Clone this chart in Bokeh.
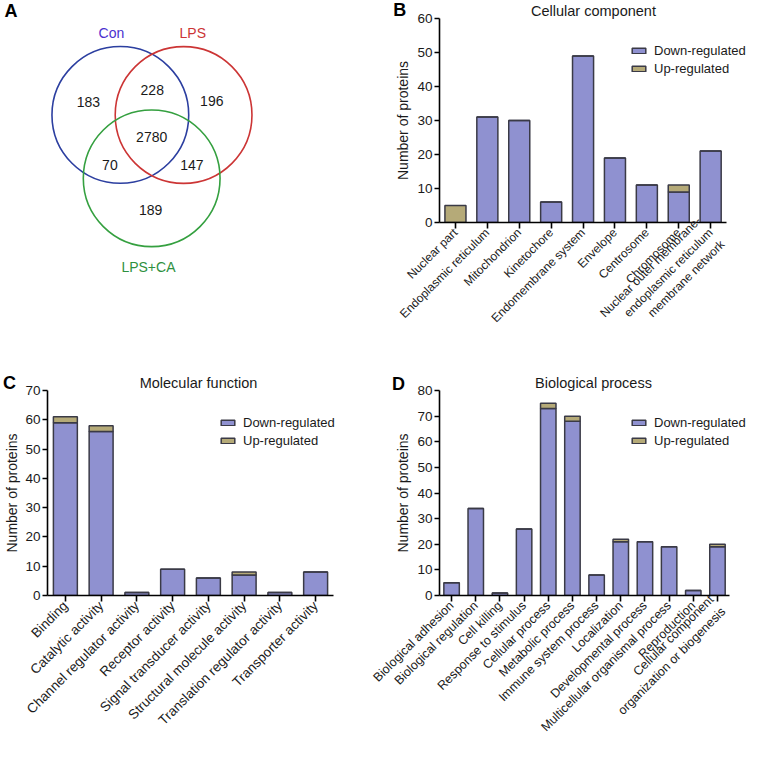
import math
from bokeh.plotting import figure
from bokeh.models import Range1d, Label, FixedTicker, ColumnDataSource
from bokeh.layouts import row, column
from bokeh.embed import file_html
from bokeh.resources import INLINE
from bokeh.core.properties import value

# ---------------- data ----------------
venn_sets = ["Con", "LPS", "LPS+CA"]
venn_regions = ["Con only", "Con & LPS", "LPS only", "All three", "Con & LPS+CA", "LPS & LPS+CA", "LPS+CA only"]
venn_counts = [183, 228, 196, 2780, 70, 147, 189]

cc_cats = ["Nuclear part", "Endoplasmic reticulum", "Mitochondrion", "Kinetochore",
           "Endomembrane system", "Envelope", "Centrosome", "Chromosome",
           "Nuclear outer membrane-\nendoplasmic reticulum\nmembrane network"]
cc_down = [0, 31, 30, 6, 49, 19, 11, 9, 21]
cc_up = [5, 0, 0, 0, 0, 0, 0, 2, 0]
cc_ticks = [0, 10, 20, 30, 40, 50, 60]

mf_cats = ["Binding", "Catalytic activity", "Channel regulator activity", "Receptor activity",
           "Signal transducer activity", "Structural molecule activity",
           "Translation regulator activity", "Transporter activity"]
mf_down = [59, 56, 1, 9, 6, 7, 1, 8]
mf_up = [2, 2, 0, 0, 0, 1, 0, 0]
mf_ticks = [0, 10, 20, 30, 40, 50, 60, 70]

bp_cats = ["Biological adhesion", "Biological regulation", "Cell killing", "Response to stimulus",
           "Cellular process", "Metabolic process", "Immune system process", "Localization",
           "Developmental process", "Multicellular organismal process", "Reproduction",
           "Cellular component\norganization or biogenesis"]
bp_down = [5, 34, 1, 26, 73, 68, 8, 21, 21, 19, 2, 19]
bp_up = [0, 0, 0, 0, 2, 2, 0, 1, 0, 0, 0, 1]
bp_ticks = [0, 10, 20, 30, 40, 50, 60, 70, 80]

series_names = ["Down-regulated", "Up-regulated"]

# ---------------- styles / layout ----------------
FONT = "Liberation Sans"
BLUE = "#8f91d0"
TAN = "#b5aa78"
EDGE = "#3a3a46"
TXT = "#1a1a1a"
RIGHT = 16
LEFT_COL_W = 365
RIGHT_COL_W = 763 - LEFT_COL_W
RIGHT_AXIS_X = 439 - LEFT_COL_W


def bar_panel(cats, down, up, ticks, title, letter, w, h, left, bottom,
              spacing_px, bar_w, cat_size, legend_xy, letter_xy, ylabel_standoff):
    n = len(cats)
    xs = list(range(n))
    x_end = -0.5 + (w - left - RIGHT) / spacing_px
    src = ColumnDataSource(dict(x=xs, down=down, up=up))
    p = figure(width=w, height=h, x_range=Range1d(-0.5, x_end),
               y_range=Range1d(ticks[0], ticks[-1]),
               output_backend="svg", toolbar_location=None,
               min_border_left=left, min_border_right=RIGHT,
               min_border_top=0, min_border_bottom=bottom)
    p.vbar_stack(["down", "up"], x="x", width=bar_w, source=src,
                 fill_color=[BLUE, TAN], line_color=EDGE, line_width=1.5,
                 legend_label=series_names)
    p.grid.visible = False
    p.outline_line_color = None
    p.background_fill_color = None
    p.border_fill_color = None
    for ax in (p.xaxis, p.yaxis):
        ax.axis_line_width = 1.6
        ax.axis_line_color = "black"
        ax.major_tick_line_width = 1.6
        ax.major_tick_line_color = "black"
        ax.major_tick_in = 0
        ax.major_tick_out = 5
        ax.minor_tick_in = 0
        ax.minor_tick_out = 0
        ax.major_label_text_font = FONT
        ax.major_label_text_color = TXT
    p.yaxis.ticker = FixedTicker(ticks=ticks)
    p.yaxis.major_label_text_font_size = "13.5px"
    p.yaxis.major_label_standoff = 2
    p.yaxis.axis_label = "Number of proteins"
    p.yaxis.axis_label_text_font = FONT
    p.yaxis.axis_label_text_font_size = "14px"
    p.yaxis.axis_label_text_font_style = "normal"
    p.yaxis.axis_label_text_color = TXT
    p.yaxis.axis_label_standoff = ylabel_standoff
    p.xaxis.bounds = (-0.5, n - 0.5)
    p.xaxis.ticker = FixedTicker(ticks=xs)
    p.xaxis.major_tick_out = 6
    p.xaxis.major_label_overrides = {i: c for i, c in zip(xs, cats)}
    p.xaxis.major_label_orientation = math.pi / 4
    p.xaxis.major_label_text_font_size = f"{cat_size}px"
    p.xaxis.major_label_standoff = 2

    lg = p.legend[0]
    lg.location = legend_xy
    lg.padding = 0
    lg.margin = 0
    lg.border_line_color = None
    lg.background_fill_alpha = 0
    lg.glyph_width = 17
    lg.glyph_height = 7
    lg.label_height = 16
    lg.spacing = 2
    lg.label_standoff = 7
    lg.label_text_font = FONT
    lg.label_text_font_size = "13px"
    lg.label_text_color = TXT

    p.title.text = title
    p.title.align = "center"
    p.title.standoff = 0
    p.title.text_font = FONT
    p.title.text_font_size = "14.5px"
    p.title.text_font_style = "normal"
    p.title.text_color = TXT

    p.add_layout(Label(x=letter_xy[0], y=letter_xy[1], text=letter, text_font=FONT,
                       text_font_size="18px", text_font_style="bold", text_align="center",
                       text_baseline="middle", text_color="black"), "right")
    return p


# ---------------- panel A: Venn ----------------
A_LEFT = 47
pa = figure(width=LEFT_COL_W, height=372, x_range=Range1d(A_LEFT, LEFT_COL_W),
            y_range=Range1d(372, 0),
            output_backend="svg", toolbar_location=None,
            x_axis_location=None, y_axis_location=None,
            min_border_left=A_LEFT, min_border_right=0, min_border_top=0, min_border_bottom=0)
pa.grid.visible = False
pa.outline_line_color = None
pa.background_fill_color = None
pa.border_fill_color = None

circle_x = [123.7, 190.3, 156.7]
circle_y = [114.4, 114.5, 177.8]
circle_colors = ["#2c3fa0", "#cc3535", "#35a040"]
set_label_colors = ["#4a30cf", "#cc3535", "#2e9040"]
pa.circle(x=circle_x, y=circle_y, radius=72, fill_color=None,
          line_color=circle_colors, line_width=1.6)

count_x = [90, 157.3, 220, 156.7, 112.7, 199, 155.7]
count_y = [101.7, 89.3, 100.7, 136.7, 164.3, 164.3, 209.3]
pa.text(x=count_x, y=count_y, text=[str(c) for c in venn_counts],
        text_font=value(FONT), text_font_size="14px", text_align="center",
        text_baseline="middle", text_color=TXT)
set_x = [114.3, 200, 153.3]
set_y = [32.3, 32.3, 266.7]
pa.text(x=set_x, y=set_y, text=venn_sets, text_font=value(FONT), text_font_size="14px",
        text_align="center", text_baseline="middle", text_color=set_label_colors)
pa.add_layout(Label(x=8.5, y=10.5, text="A", text_font=FONT, text_font_size="18px",
                    text_font_style="bold", text_align="center", text_baseline="middle",
                    text_color="black"), "left")

# ---------------- panels B, C, D ----------------
pb = bar_panel(cc_cats, cc_down, cc_up, cc_ticks, "Cellular component", "B",
               RIGHT_COL_W, 372, RIGHT_AXIS_X, 150, 31.9, 0.66, 12, (191, 146),
               (-1.75, 62.36), 3)
pc = bar_panel(mf_cats, mf_down, mf_up, mf_ticks, "Molecular function", "C",
               LEFT_COL_W, 380, 47, 157, 35.75, 0.67, 13.5, (172, 147),
               (-1.56, 72.4), 2)
pd_ = bar_panel(bp_cats, bp_down, bp_up, bp_ticks, "Biological process", "D",
                RIGHT_COL_W, 380, RIGHT_AXIS_X, 157, 24.17, 0.64, 12.5, (191, 147),
                (-2.2, 82.7), 3)

layout = row(column(pa, pc), column(pb, pd_))
open("out.html", "w").write(file_html(layout, INLINE))
